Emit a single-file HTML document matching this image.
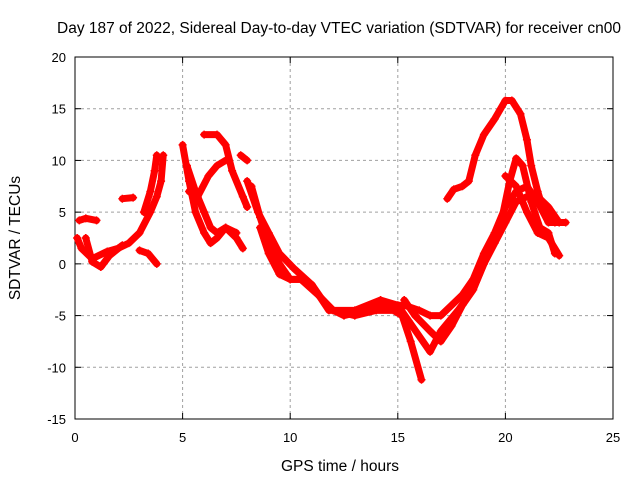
<!DOCTYPE html>
<html><head><meta charset="utf-8"><style>
body{margin:0;background:#fff}
svg text{font-family:"Liberation Sans",sans-serif;font-size:13px;fill:#000}
svg text.big{font-size:15.5px}
</style></head><body>
<svg id="c" width="640" height="480" viewBox="0 0 640 480">
<rect width="640" height="480" fill="#fff"/>
<text class="big" x="339" y="33" text-anchor="middle">Day 187 of 2022, Sidereal Day-to-day VTEC variation (SDTVAR) for receiver cn00</text>
<g id="grid"></g>
<g id="axes"></g>
<g id="series"></g>
<text class="big" x="340" y="471" text-anchor="middle">GPS time / hours</text>
<text class="big" transform="translate(20,238) rotate(-90)" text-anchor="middle">SDTVAR / TECUs</text>
</svg>
<script>
const xTicks=[0,5,10,15,20,25];
const yTicks=[-15,-10,-5,0,5,10,15,20];
const track1=[[0.2,4.2],[0.5,4.4],[1.0,4.2]];
const track2=[[0.1,2.5],[0.3,1.5],[0.8,0.5],[1.5,1.2],[2.0,1.5],[2.5,2],[3.0,3],[3.5,5],[3.8,6.5],[4.0,8],[4.1,10.5]];
const track3=[[0.5,2.5],[0.8,0.2],[1.2,-0.3],[1.6,0.8],[2.2,1.8]];
const track4=[[2.2,6.3],[2.7,6.4]];
const track5=[[3.0,1.3],[3.4,1.0],[3.8,0]];
const track6=[[3.2,5],[3.5,7],[3.7,9],[3.8,10.5]];
const track7=[[5.0,11.5],[5.3,8],[5.6,5],[6.0,3],[6.3,2],[6.6,2.5],[7.0,3.5],[7.5,3]];
const track8=[[6.0,12.5],[6.6,12.5],[7.0,11.5],[7.3,9],[7.8,6.5],[8.0,5.5]];
const track9=[[5.2,9.5],[5.6,7],[6.0,5],[6.3,3.5],[6.6,3],[7.0,3.5],[7.5,2.5],[7.8,1.5]];
const track10=[[5.3,7],[5.7,6.5],[6.2,8.5],[6.6,9.5],[7.0,10]];
const track11=[[7.7,10.5],[8.0,10]];
const track12=[[8.2,7.5],[8.6,4.5],[9,2],[9.5,0],[10,-1.5],[10.5,-1.5],[11,-2],[11.5,-3.5],[12,-4.5],[12.5,-5],[13.5,-4.5],[14.5,-4],[15.3,-4],[16,-4.5],[16.5,-5],[17,-5],[17.5,-4],[18,-3],[18.5,-1.5],[19,1],[19.5,3],[20,5.5],[20.5,7],[21,7.5],[21.5,6],[22,4],[22.5,4]];
const track13=[[8.6,3.5],[9,1],[9.5,-1],[10,-1.5],[10.5,-1.5],[11.3,-3],[12,-4.5],[13,-5],[14,-4.5],[14.8,-4.5],[15.2,-5],[15.6,-7.5],[16.1,-11.2]];
const track14=[[8.0,8],[8.5,5],[9,3],[9.5,1],[10.2,-0.5],[11,-2],[11.8,-4.5],[13,-4.5],[14.2,-3.5],[15,-4],[15.5,-5.5],[16.5,-8.5],[17,-6.5],[17.8,-4.5],[18.5,-2.5],[19,0],[19.5,2],[20,4],[20.5,6],[21,6.5],[21.5,6.5],[22,5.5],[22.5,4]];
const track15=[[15.3,-3.5],[15.8,-5],[16.5,-6.5],[17,-7.5],[17.5,-6],[18,-4],[18.5,-2.5],[19.2,1],[19.8,4],[20.2,8],[20.5,10.2],[20.8,9.5],[21.2,6],[21.6,3.5],[22,3],[22.3,1]];
const track16=[[17.3,6.3],[17.6,7.2],[18.0,7.5],[18.3,8],[18.6,10.5],[19,12.5],[19.5,14],[20,15.8],[20.3,15.8],[20.7,14.5],[21,12],[21.2,9.5],[21.5,7],[21.8,5],[22.3,4],[22.8,4]];
const track17=[[20,8.5],[20.5,7.5],[21.0,5],[21.5,3],[22,2.5],[22.5,0.8]];
const tracks=[track1,track2,track3,track4,track5,track6,track7,track8,track9,track10,track11,track12,track13,track14,track15,track16,track17];

const X0=75,X1=613,Y0=419,Y1=57;
const xs=v=>X0+(v-0)/25*(X1-X0);
const ys=v=>Y0-(v+15)/35*(Y0-Y1);
const NS='http://www.w3.org/2000/svg';
function mk(t,a,p){const e=document.createElementNS(NS,t);for(const k in a)e.setAttribute(k,a[k]);p.appendChild(e);return e;}
const grid=document.getElementById('grid'),axes=document.getElementById('axes'),ser=document.getElementById('series');
xTicks.forEach(t=>{const x=xs(t);
 if(t>0&&t<25){const l=mk('line',{x1:x,y1:Y1,x2:x,y2:Y0,stroke:'#a0a0a0','stroke-dasharray':'3,3'},grid);}
 mk('line',{x1:x,y1:Y0,x2:x,y2:Y0-6,stroke:'#000'},axes);mk('line',{x1:x,y1:Y1,x2:x,y2:Y1+6,stroke:'#000'},axes);
 const tx=mk('text',{x:x,y:Y0+23,'text-anchor':'middle'},axes);tx.textContent=t;
 
 });
yTicks.forEach(t=>{const y=ys(t);
 if(t>-15&&t<20){const l=mk('line',{x1:X0,y1:y,x2:X1,y2:y,stroke:'#a0a0a0','stroke-dasharray':'3,3'},grid);}
 mk('line',{x1:X0,y1:y,x2:X0+6,y2:y,stroke:'#000'},axes);mk('line',{x1:X1,y1:y,x2:X1-6,y2:y,stroke:'#000'},axes);
 const tx=mk('text',{x:X0-9,y:y+5,'text-anchor':'end'},axes);tx.textContent=t;
 
 });
mk('rect',{x:X0,y:Y1,width:X1-X0,height:Y0-Y1,fill:'none',stroke:'#000'},axes);
tracks.forEach((tr,i)=>{
 const pl=mk('polyline',{points:tr.map(p=>xs(p[0])+','+ys(p[1])).join(' '),fill:'none',stroke:'#f00','stroke-width':7,'stroke-linejoin':'round','stroke-linecap':'round'},ser);
 
 
 tr.forEach(p=>{const x=xs(p[0]),y=ys(p[1]);
  const m=mk('path',{d:`M${x-4},${y}H${x+4}M${x},${y-4}V${y+4}`,stroke:'#f00','stroke-width':1.5},ser);
  
  });
});
</script>
</body></html>
